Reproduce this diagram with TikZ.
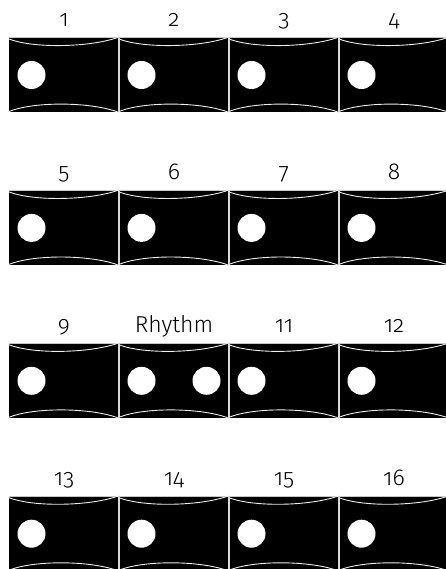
\documentclass[tikz,border=0pt]{standalone}
\usepackage{fontspec}
\setmainfont{Fira Sans Light}[Numbers=OldStyle]
\begin{document}
\begin{tikzpicture}[x=1pt,y=-1pt,
  drum/.style={rectangle, fill=black, minimum width=110pt, minimum height=74pt,
    inner sep=0pt, outer sep=0pt},
  dot/.style={circle, fill=white, minimum size=28pt, inner sep=0pt},
  rim/.style={draw=white!85!gray, line width=0.9pt},
  sep/.style={draw=gray!30, line width=1.4pt},
  topline/.style={draw=gray!45, line width=0.8pt},
  lbl/.style={font=\fontsize{23}{23}\selectfont, anchor=base, inner sep=0pt}]
\useasboundingbox (0,0) rectangle (446,569);
\clip (0,0) rectangle (446,569);
\foreach \r in {0,1,2,3}{
  \foreach \c in {0,1,2,3}{
    \pgfmathsetmacro{\xa}{9+110*\c}
    \pgfmathsetmacro{\ya}{38+152.9*\r}
    \pgfmathtruncatemacro{\n}{4*\r+\c+1}
    \node[drum, anchor=north west] (b\n) at (\xa,\ya) {};
    \draw[topline] ([yshift=0.4pt]b\n.north west) -- ([yshift=0.4pt]b\n.north east);
    \draw[rim] (b\n.north west) ++(0,1) .. controls +(26,10) and +(-26,10) .. ([yshift=1pt]b\n.north east);
    \draw[rim] (b\n.south west) ++(0,-0.5) .. controls +(26,-10.5) and +(-26,-10.5) .. ([yshift=-0.5pt]b\n.south east);
    \node[dot] (d\n) at ([xshift=22.5pt]b\n.west) {};
  }
}
\foreach \a/\b in {1/2,2/3,3/4,5/6,6/7,7/8,9/10,10/11,11/12,13/14,14/15,15/16}{
  \draw[sep] (b\a.north east) -- (b\a.south east);
}
\node[dot] (d10b) at ([xshift=-22.5pt]b10.east) {};
\foreach \n/\t in {1/1,2/2,3/3,4/4,5/5,6/6,7/7,8/8,9/9,10/Rhythm,11/11,12/12,13/13,14/14,15/15,16/16}{
  \node[lbl] (l\n) at ([yshift=11pt]b\n.north) {\t};
}
\end{tikzpicture}
\end{document}
